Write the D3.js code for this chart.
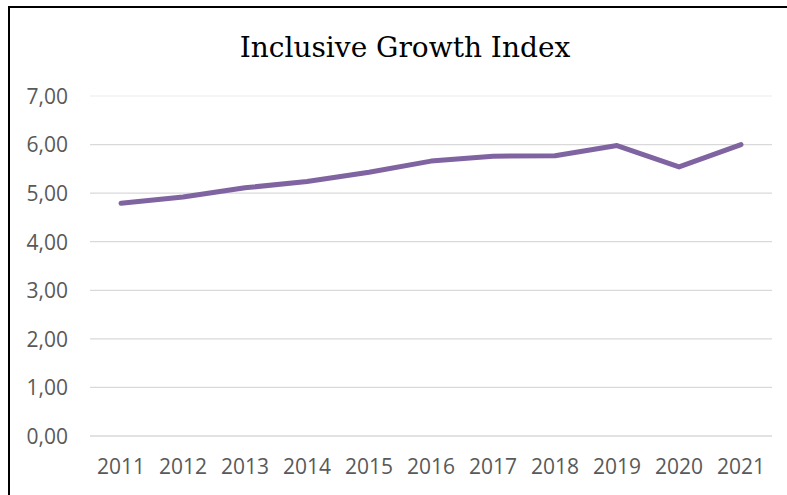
<!DOCTYPE html>
<html>
<head>
<meta charset="utf-8">
<script src="https://cdn.jsdelivr.net/npm/d3@7"></script>
<style>
  html, body { margin: 0; padding: 0; background: #fff; }
  svg { display: block; }
  .axis text { font-family: "Open Sans", sans-serif; font-size: 21px; fill: #595959; }
</style>
</head>
<body>
<svg id="chart" width="787" height="495"></svg>
<script>
const years = ['2011', '2012', '2013', '2014', '2015', '2016', '2017', '2018', '2019', '2020', '2021'];
const indexValues = [4.79, 4.92, 5.11, 5.24, 5.43, 5.66, 5.76, 5.77, 5.98, 5.54, 6.00];
const yTicks = [0, 1, 2, 3, 4, 5, 6, 7];
const title = 'Inclusive Growth Index';

const svg = d3.select('#chart');
const m = { left: 90, right: 772, top: 96, bottom: 436 };

// frame (only top and left edges show in the crop)
svg.append('rect')
  .attr('x', 9).attr('y', 7)
  .attr('width', 800).attr('height', 520)
  .attr('fill', 'none').attr('stroke', '#000').attr('stroke-width', 2);

svg.append('text')
  .attr('x', 405).attr('y', 57)
  .attr('text-anchor', 'middle')
  .style('font-family', '"DejaVu Serif", serif')
  .style('font-size', '28px')
  .attr('fill', '#000')
  .text(title);

const x = d3.scaleBand().domain(years).range([m.left, m.right]);
const y = d3.scaleLinear().domain([0, 7]).range([m.bottom, m.top]);

// gridlines
svg.append('g')
  .selectAll('line')
  .data(yTicks)
  .join('line')
  .attr('x1', m.left).attr('x2', m.right)
  .attr('y1', d => y(d)).attr('y2', d => y(d))
  .attr('stroke', d => d === 7 ? '#f2f2f2' : '#d9d9d9')
  .attr('stroke-width', 1.3);

const fmt = d => d3.format('.2f')(d).replace('.', ',');

svg.append('g')
  .attr('class', 'axis')
  .attr('transform', `translate(${m.left - 22},0)`)
  .call(d3.axisLeft(y).tickValues(yTicks).tickFormat(fmt).tickSize(0).tickPadding(0))
  .call(g => g.select('.domain').remove())
  .selectAll('text').attr('dy', '0.35em');

svg.append('g')
  .attr('class', 'axis')
  .attr('transform', `translate(0,${m.bottom + 19})`)
  .call(d3.axisBottom(x).tickSize(0).tickPadding(0))
  .call(g => g.select('.domain').remove())
  .selectAll('text').attr('dy', '0.9em');

const line = d3.line()
  .x((d, i) => x(years[i]) + x.bandwidth() / 2)
  .y(d => y(d));

svg.append('path')
  .datum(indexValues)
  .attr('d', line)
  .attr('fill', 'none')
  .attr('stroke', '#8064a2')
  .attr('stroke-width', 5)
  .attr('stroke-linecap', 'round')
  .attr('stroke-linejoin', 'round');
</script>
</body>
</html>
